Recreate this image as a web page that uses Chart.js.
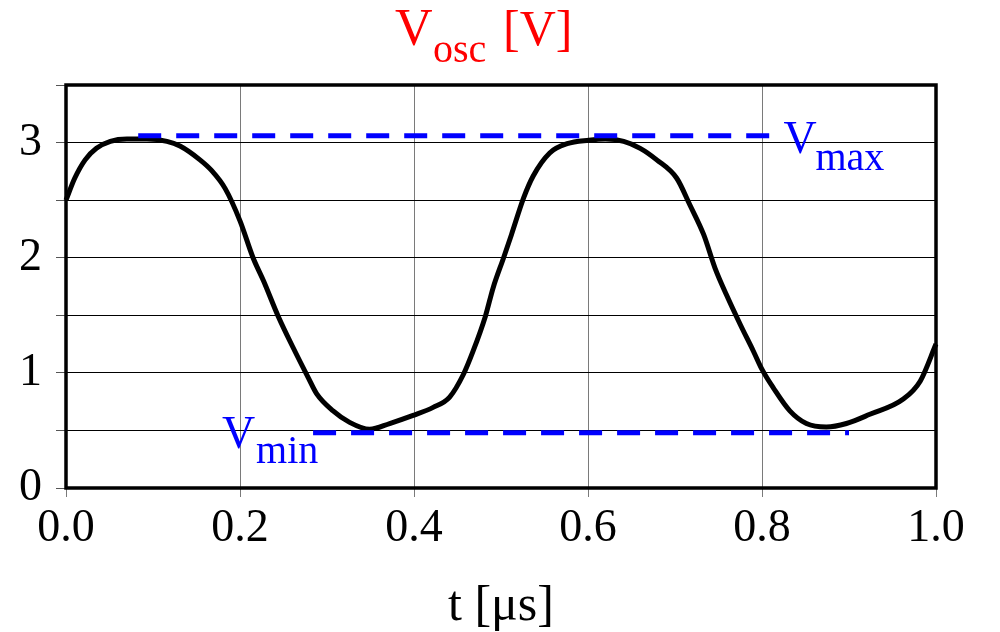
<!DOCTYPE html>
<html>
<head>
<meta charset="utf-8">
<script src="https://cdn.jsdelivr.net/npm/chart.js@4/dist/chart.umd.min.js"></script>
<style>
  html, body { margin: 0; padding: 0; background: #fff; }
  #wrap { width: 1000px; height: 632px; }
</style>
</head>
<body>
<div id="wrap"><canvas id="myChart" width="1000" height="632"></canvas></div>
<script>
// t in microseconds
const tempos = [0.000, 0.010, 0.022, 0.035, 0.051, 0.070, 0.093, 0.116, 0.131, 0.154,
    0.167, 0.183, 0.200, 0.215, 0.227, 0.244, 0.261, 0.279, 0.288, 0.307,
    0.326, 0.349, 0.372, 0.399, 0.422, 0.441, 0.457, 0.468, 0.482, 0.491,
    0.503, 0.512, 0.526, 0.537, 0.556, 0.576, 0.601, 0.620, 0.641, 0.660,
    0.679, 0.702, 0.717, 0.733, 0.746, 0.759, 0.775, 0.790, 0.800, 0.813,
    0.832, 0.851, 0.874, 0.897, 0.924, 0.962, 0.982, 1.000];
const tensoes = [2.50, 2.69, 2.85, 2.95, 3.01, 3.03, 3.03, 3.01, 2.97, 2.85,
    2.76, 2.60, 2.32, 2.00, 1.80, 1.49, 1.22, 0.95, 0.82, 0.67,
    0.57, 0.51, 0.56, 0.63, 0.70, 0.79, 0.99, 1.19, 1.49, 1.74,
    2.00, 2.20, 2.52, 2.71, 2.91, 2.99, 3.02, 3.03, 3.01, 2.95,
    2.85, 2.69, 2.46, 2.20, 1.91, 1.68, 1.42, 1.19, 1.03, 0.87,
    0.67, 0.56, 0.53, 0.56, 0.64, 0.77, 0.93, 1.25];

// dashed reference levels
const vmaxT = [0.083, 0.812];
const vmaxV = [3.06, 3.06];
const vminT = [0.284, 0.900];
const vminV = [0.48, 0.48];

const yTicks = [0, 1, 2, 3];

const serif = "'Liberation Serif', 'Times New Roman', serif";

function pontos(xs, ys) {
    return xs.map((x, i) => ({ x: x, y: ys[i] }));
}

// frame, title and the Vmax / Vmin labels
const extras = {
    id: 'extras',
    beforeDatasetsDraw(chart) {
        const a = chart.chartArea;
        const ctx = chart.ctx;
        ctx.save();
        ctx.strokeStyle = '#000';
        ctx.lineWidth = 3.5;
        ctx.strokeRect(a.left, a.top, a.right - a.left, a.bottom - a.top);
        ctx.restore();
    },
    afterDraw(chart) {
        const ctx = chart.ctx;
        const xs = chart.scales.x, ys = chart.scales.y;
        ctx.save();
        ctx.textBaseline = 'alphabetic';
        ctx.textAlign = 'left';

        // title
        ctx.fillStyle = '#ff0000';
        ctx.font = '52px ' + serif;
        ctx.fillText('V', 395, 45);
        ctx.font = '40px ' + serif;
        ctx.fillText('osc', 433, 62);
        ctx.font = '50px ' + serif;
        ctx.fillText('[V]', 503, 45);

        // Vmax label, after the end of the dashed line
        ctx.fillStyle = '#0000ff';
        let x0 = xs.getPixelForValue(vmaxT[1]);
        let y0 = ys.getPixelForValue(vmaxV[1]);
        ctx.font = '46px ' + serif;
        ctx.fillText('V', x0 + 11, y0 + 17);
        ctx.font = '40px ' + serif;
        ctx.fillText('max', x0 + 43, y0 + 34);

        // Vmin label, before the start of the dashed line
        x0 = xs.getPixelForValue(vminT[0]);
        y0 = ys.getPixelForValue(vminV[0]);
        ctx.font = '46px ' + serif;
        ctx.fillText('V', x0 - 91, y0 + 15);
        ctx.font = '40px ' + serif;
        ctx.fillText('min', x0 - 57, y0 + 30);
        ctx.restore();
    }
};

document.addEventListener('DOMContentLoaded', function() {
    const ctx = document.getElementById('myChart').getContext('2d');
    new Chart(ctx, {
        type: 'line',
        data: {
            datasets: [
                {
                    label: 'Vmax',
                    data: pontos(vmaxT, vmaxV),
                    borderColor: '#0000ff',
                    borderWidth: 5,
                    borderDash: [23, 15],
                    pointRadius: 0,
                    tension: 0
                },
                {
                    label: 'Vmin',
                    data: pontos(vminT, vminV),
                    borderColor: '#0000ff',
                    borderWidth: 5,
                    borderDash: [23, 15],
                    pointRadius: 0,
                    tension: 0
                },
                {
                    label: 'Vosc',
                    data: pontos(tempos, tensoes),
                    borderColor: '#000',
                    borderWidth: 5,
                    pointRadius: 0,
                    cubicInterpolationMode: 'monotone',
                    clip: false
                }
            ]
        },
        options: {
            responsive: false,
            animation: false,
            events: [],
            layout: { padding: { top: 85, right: 64, left: 0, bottom: 0 } },
            plugins: {
                legend: { display: false },
                tooltip: { enabled: false },
                title: { display: false }
            },
            scales: {
                x: {
                    type: 'linear',
                    min: 0,
                    max: 1,
                    afterFit: function(scale) { scale.height = 144; },
                    ticks: {
                        stepSize: 0.2,
                        padding: 4,
                        autoSkip: false,
                        color: '#000',
                        font: { family: serif, size: 46 },
                        maxRotation: 0,
                        callback: v => v.toFixed(1)
                    },
                    grid: { color: '#7a7a7a', lineWidth: 1, tickLength: 9, tickColor: '#7a7a7a' },
                    border: { display: false },
                    title: {
                        display: true,
                        text: 't [μs]',
                        color: '#000',
                        font: { family: serif, size: 50, lineHeight: 1 },
                        padding: { top: 0, bottom: 0 }
                    }
                },
                y: {
                    min: 0,
                    max: 3.5,
                    afterFit: function(scale) { scale.width = 66; },
                    ticks: {
                        stepSize: 0.5,
                        padding: 14,
                        autoSkip: false,
                        color: '#000',
                        font: { family: serif, size: 46 },
                        callback: v => yTicks.includes(v) ? String(v) : ''
                    },
                    grid: { color: '#000', lineWidth: 1, tickLength: 10, tickColor: '#555' },
                    border: { display: false }
                }
            }
        },
        plugins: [extras]
    });
});
</script>
</body>
</html>
